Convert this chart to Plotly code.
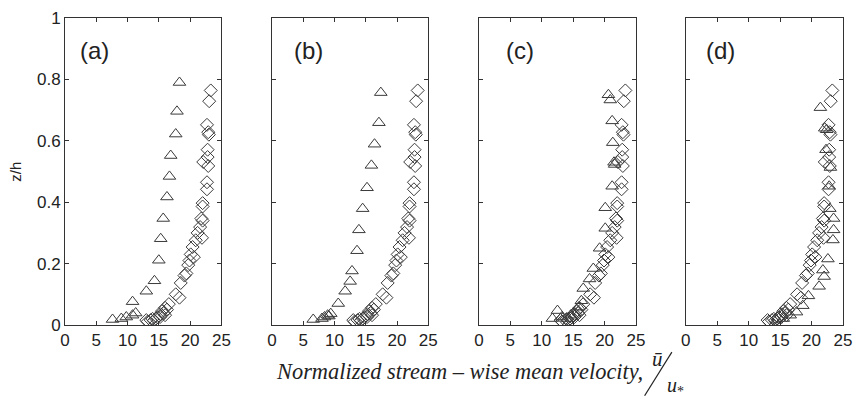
import plotly.graph_objects as go

# Smooth-wall reference profile (diamonds), repeated in every panel
ref_u = [23.3, 23.05, 22.7, 22.9, 23.0, 22.8, 22.8, 22.1, 22.9, 22.7, 22.7, 22.0,
         22.0, 21.8, 22.0, 21.6, 21.9, 20.9, 20.4, 20.6, 19.9, 19.7, 19.4, 19.1,
         18.5, 17.7, 18.3, 16.6, 16.0, 15.8, 16.0, 15.2, 14.5, 13.7, 13.2, 14.2,
         13.0, 15.3, 14.8, 15.5, 16.3, 14.0, 21.2, 20.1]
ref_z = [0.764, 0.729, 0.652, 0.628, 0.620, 0.571, 0.547, 0.531, 0.518, 0.465, 0.442, 0.397,
         0.386, 0.347, 0.340, 0.319, 0.284, 0.276, 0.254, 0.221, 0.210, 0.195, 0.168, 0.161,
         0.137, 0.100, 0.089, 0.068, 0.056, 0.039, 0.032, 0.026, 0.021, 0.016, 0.011, 0.014,
         0.016, 0.035, 0.025, 0.045, 0.050, 0.020, 0.300, 0.230]

# Measured profiles (triangles) for cases (a)-(d)
a_u = [18.3, 17.9, 17.7, 16.9, 16.7, 16.3, 15.7, 15.3, 15.0, 14.3, 13.0, 10.8, 11.3, 10.8, 9.8, 9.0, 7.6]
a_z = [0.79, 0.696, 0.622, 0.552, 0.484, 0.417, 0.347, 0.281, 0.211, 0.144, 0.110, 0.076, 0.039, 0.032, 0.026, 0.021, 0.018]

b_u = [17.4, 17.1, 16.4, 15.9, 15.2, 14.5, 13.9, 13.6, 12.8, 12.5, 11.7, 10.6, 9.4, 9.1, 8.9, 8.4, 8.0, 6.6]
b_z = [0.757, 0.659, 0.589, 0.520, 0.447, 0.379, 0.310, 0.242, 0.176, 0.142, 0.110, 0.070, 0.037, 0.029, 0.032, 0.026, 0.021, 0.018]

c_u = [20.6, 20.9, 21.2, 21.3, 21.6, 21.5, 21.2, 20.1, 20.1, 19.2, 18.2, 17.6, 16.6, 16.3, 15.9, 12.5, 11.7, 13.2, 14.0, 14.6]
c_z = [0.750, 0.733, 0.665, 0.594, 0.523, 0.530, 0.452, 0.382, 0.315, 0.250, 0.184, 0.150, 0.119, 0.079, 0.058, 0.047, 0.021, 0.026, 0.021, 0.032]

d_u = [21.4, 22.1, 22.4, 22.3, 23.0, 22.8, 22.9, 23.5, 23.5, 23.4, 22.6, 21.8, 22.0, 21.2, 19.5, 18.6, 17.6, 16.6, 15.5, 14.4]
d_z = [0.708, 0.641, 0.636, 0.571, 0.513, 0.452, 0.379, 0.347, 0.310, 0.277, 0.215, 0.179, 0.158, 0.126, 0.095, 0.063, 0.042, 0.032, 0.021, 0.016]

panel_labels = ["(a)", "(b)", "(c)", "(d)"]
panel_u = [a_u, b_u, c_u, d_u]
panel_z = [a_z, b_z, c_z, d_z]
x_ticks = [0, 5, 10, 15, 20, 25]
y_ticks = [0, 0.2, 0.4, 0.6, 0.8, 1]
y_ticktext = ["0", "0.2", "0.4", "0.6", "0.8", "1"]

domains = [(0.0, 0.201), (0.266, 0.467), (0.532, 0.734), (0.798, 1.0)]
label_pos = [0.19, 0.234, 0.26, 0.22]

INK = "#3a3a3a"
SANS = "Liberation Sans, Arial"
SERIF = "Liberation Serif, Times New Roman"
fig = go.Figure()

for i in range(4):
    xa = "x" if i == 0 else f"x{i + 1}"
    ya = "y" if i == 0 else f"y{i + 1}"
    fig.add_trace(go.Scatter(
        x=ref_u, y=ref_z, xaxis=xa, yaxis=ya, mode="markers",
        marker=dict(symbol="diamond-open", size=10, color=INK, line=dict(width=1, color=INK)),
        showlegend=False, hoverinfo="skip"))
    fig.add_trace(go.Scatter(
        x=panel_u[i], y=panel_z[i], xaxis=xa, yaxis=ya, mode="markers",
        marker=dict(symbol="triangle-up-open", size=11, color=INK, line=dict(width=1, color=INK)),
        showlegend=False, hoverinfo="skip"))

axis_common = dict(showline=True, linecolor="#333", linewidth=1, mirror="ticks",
                   ticks="inside", ticklen=4, tickcolor="#333", showgrid=False,
                   zeroline=False, tickfont=dict(family=SANS, size=17, color="#222"))

layout = dict(
    width=861, height=400,
    margin=dict(l=65, r=10, t=9, b=75),
    paper_bgcolor="white", plot_bgcolor="white",
)
for i in range(4):
    xk = "xaxis" if i == 0 else f"xaxis{i + 1}"
    yk = "yaxis" if i == 0 else f"yaxis{i + 1}"
    ya = "y" if i == 0 else f"y{i + 1}"
    xa = "x" if i == 0 else f"x{i + 1}"
    layout[xk] = dict(domain=list(domains[i]), range=[0, 25], tickvals=x_ticks,
                      anchor=ya, **axis_common)
    layout[yk] = dict(domain=[0, 1], range=[0, 1], tickvals=y_ticks, ticktext=y_ticktext,
                      anchor=xa, showticklabels=(i == 0), **axis_common)
fig.update_layout(**layout)

annotations = []
for i in range(4):
    xa = "x" if i == 0 else f"x{i + 1}"
    ya = "y" if i == 0 else f"y{i + 1}"
    annotations.append(dict(text=panel_labels[i], xref=f"{xa} domain", yref=f"{ya} domain",
                            x=label_pos[i], y=0.893, showarrow=False, xanchor="center", yanchor="middle",
                            font=dict(family=SANS, size=24, color="#222")))

annotations.append(dict(text="z/h", xref="paper", yref="paper", x=-0.0636, y=0.498,
                        textangle=-90, showarrow=False, xanchor="center", yanchor="middle",
                        font=dict(family=SANS, size=15, color="#222")))
annotations.append(dict(text="<i>Normalized stream – wise mean velocity,</i>", xref="paper", yref="paper",
                        x=0.2680, y=-0.151, showarrow=False, xanchor="left", yanchor="middle",
                        font=dict(family=SERIF, size=22.4, color="#222")))
annotations.append(dict(text="<i>ū</i>", xref="paper", yref="paper", x=0.7610, y=-0.1100,
                        showarrow=False, xanchor="center", yanchor="middle",
                        font=dict(family=SERIF, size=21, color="#222")))
annotations.append(dict(text="<i>u</i><sub>*</sub>", xref="paper", yref="paper", x=0.7850, y=-0.2019,
                        showarrow=False, xanchor="center", yanchor="middle",
                        font=dict(family=SERIF, size=20, color="#222")))
fig.update_layout(annotations=annotations)
fig.add_shape(type="line", xref="paper", yref="paper", x0=0.7450, y0=-0.2303, x1=0.7800, y1=-0.0883,
              line=dict(color="#222", width=1.2))

fig.write_html("out.html")
